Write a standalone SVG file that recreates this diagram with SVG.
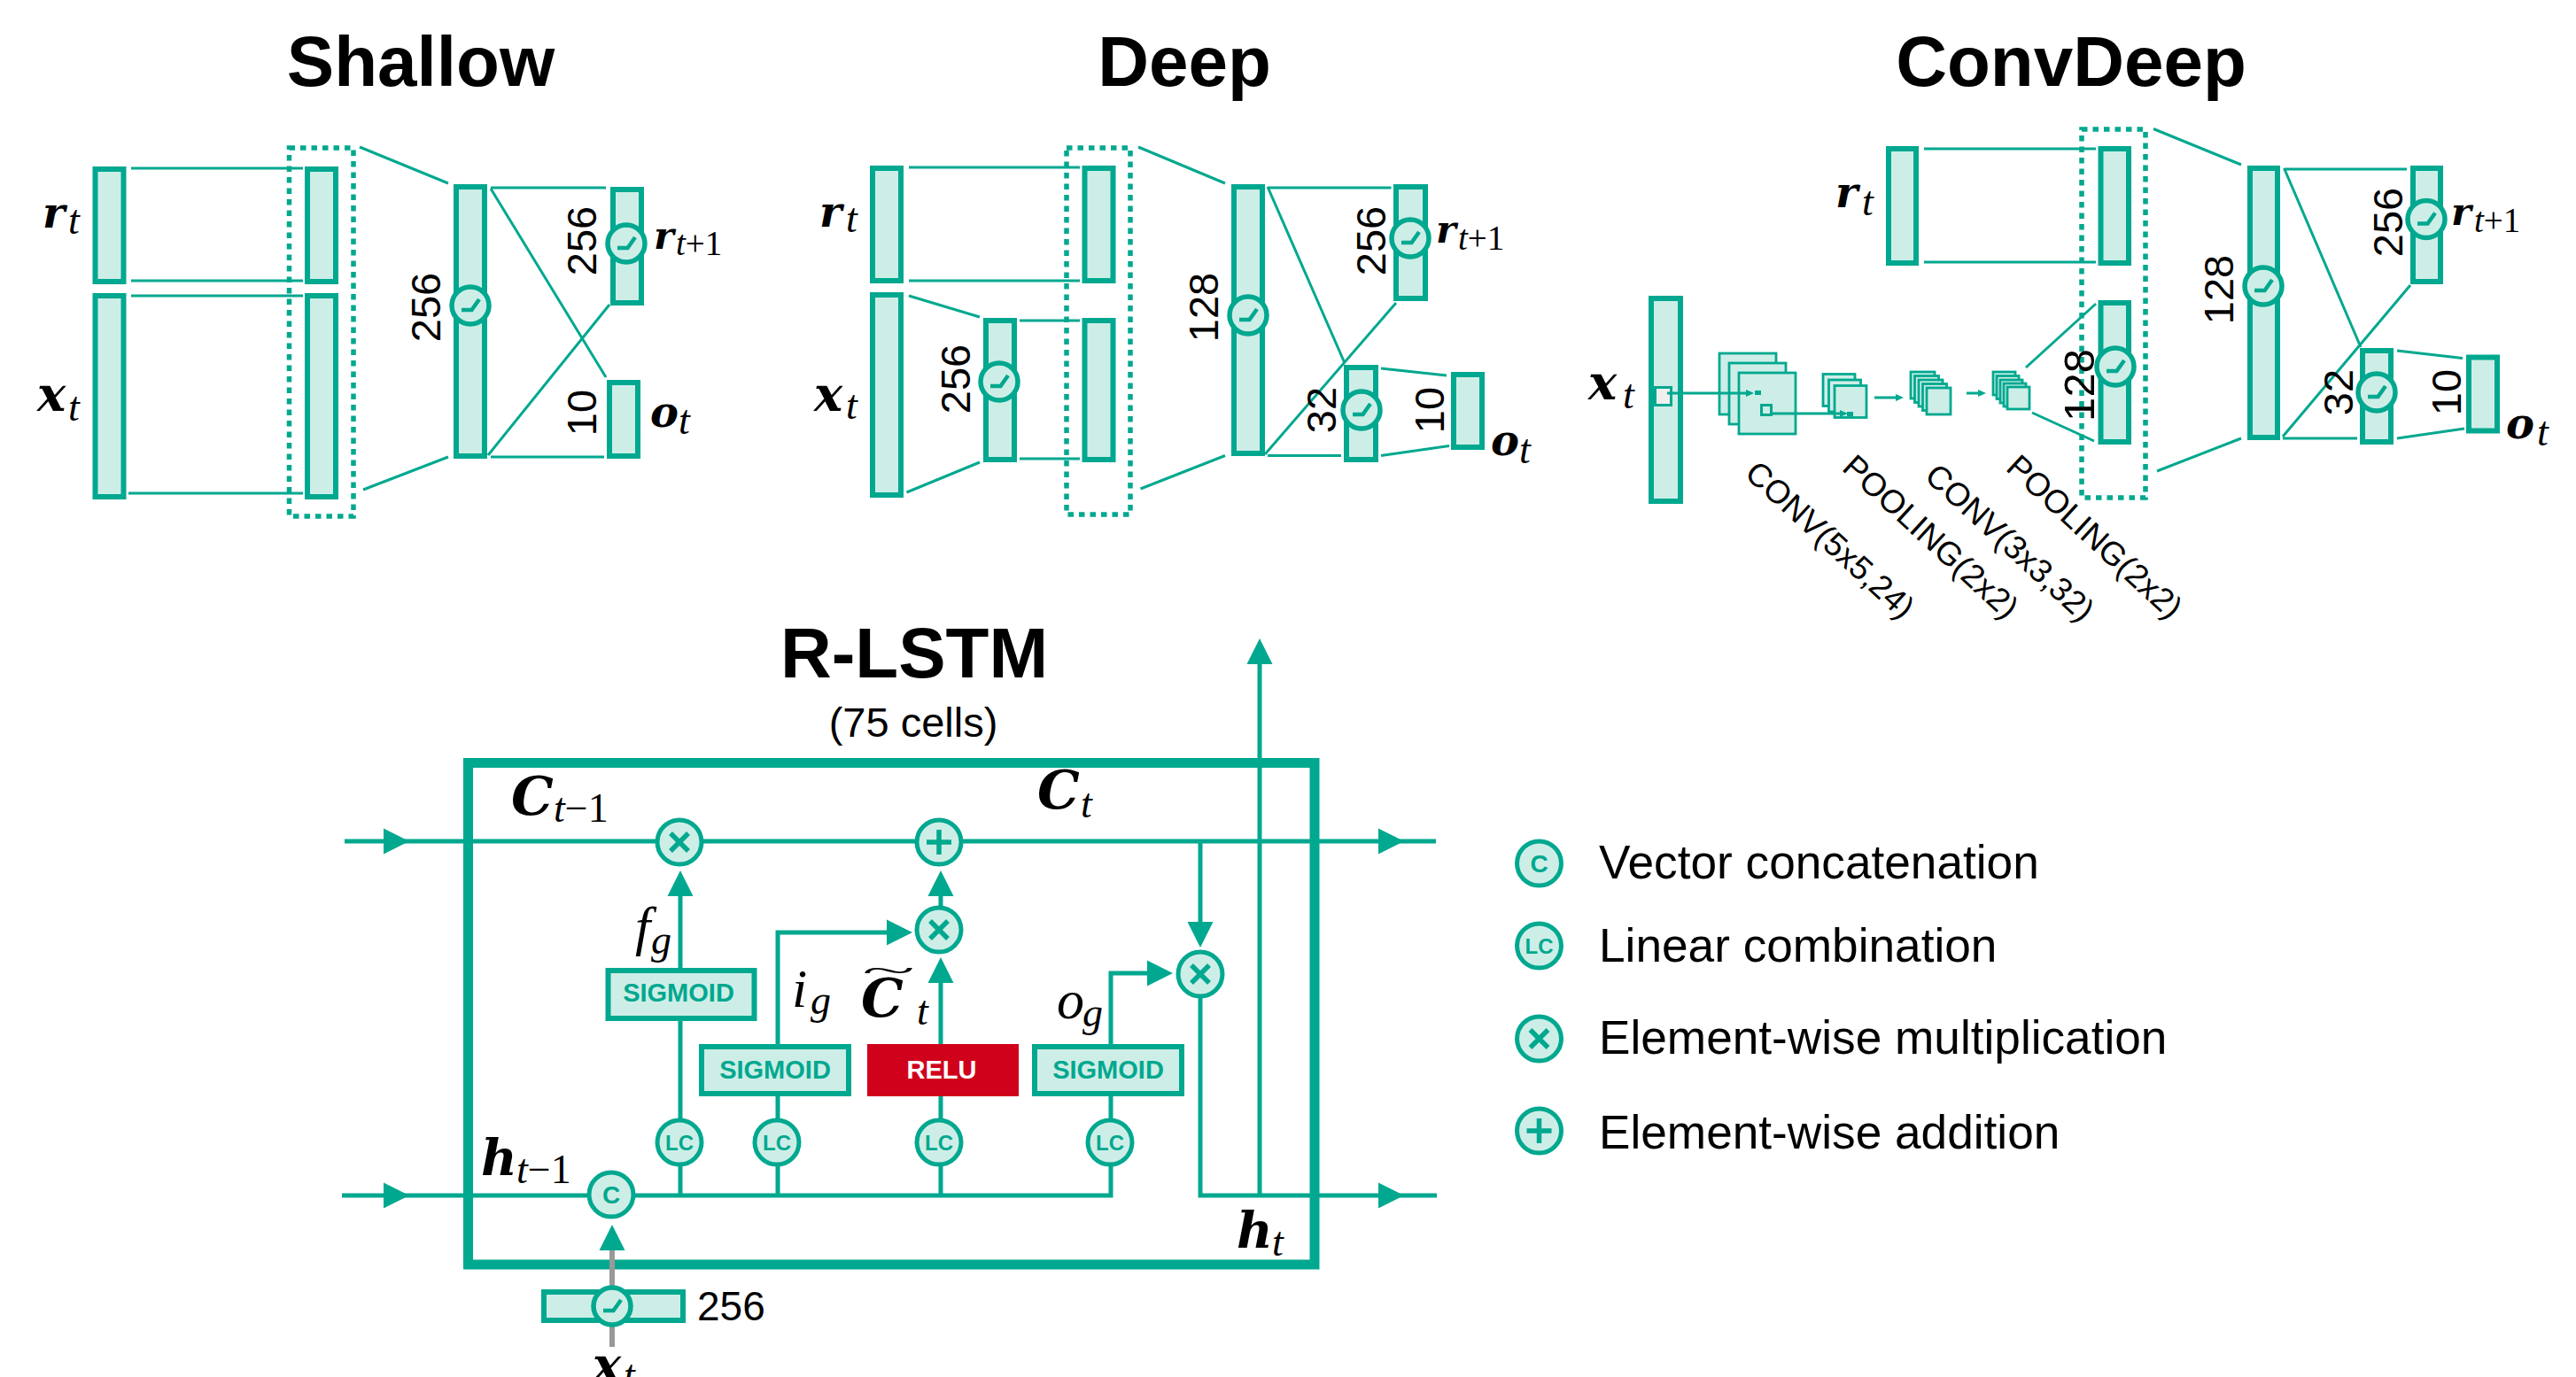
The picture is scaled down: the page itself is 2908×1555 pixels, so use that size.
<svg xmlns="http://www.w3.org/2000/svg" xmlns:xlink="http://www.w3.org/1999/xlink" width="2908" height="1555" viewBox="0 0 2908 1555">
<style>
text{font-family:"Liberation Sans",Arial,sans-serif;fill:#000}
.title{font-size:80px;font-weight:700;text-anchor:middle}
.num{font-size:47px;text-anchor:middle}
.leg{font-size:53.200px}
.rot{font-size:37px}
.mb{font-family:"DejaVu Serif","Liberation Serif",serif;font-weight:700;font-style:italic;font-size:48px}
.xx{font-size:54px}
.r1{font-size:43px}
.cap{font-size:60px}
.hh{font-size:56px}
.mi{font-family:"Liberation Serif","Times New Roman",serif;font-style:italic;font-size:62px}
.s{font-family:"Liberation Serif","Times New Roman",serif;font-style:italic;font-size:46px}
.sr{font-family:"Liberation Serif","Times New Roman",serif;font-style:normal}
.sm{font-size:39px}
.lab{font-size:29px;font-weight:700;fill:#00a88f;text-anchor:middle}
.lc{font-size:24px;font-weight:700;fill:#00a88f;text-anchor:middle}
.b{fill:#cdeee7;stroke:#00a88f;stroke-width:6}
.c{fill:#cdeee7;stroke:#00a88f;stroke-width:2.800}
.o{fill:#cdeee7;stroke:#00a88f;stroke-width:5}
.oa{fill:#cdeee7;stroke:#00a88f;stroke-width:5.500}
.l{fill:none;stroke:#00a88f;stroke-width:3}
.w{fill:none;stroke:#00a88f;stroke-width:5}
.d{fill:none;stroke:#00a88f;stroke-width:5.500;stroke-dasharray:6.500 6}
.g{fill:none;stroke:#00a88f;stroke-width:4.500}
.a{marker-end:url(#ah)}
.x{fill:none;stroke:#00a88f;stroke-width:5.500}
</style>
<defs>
<marker id="ah" markerUnits="userSpaceOnUse" markerWidth="30" markerHeight="30" viewBox="0 -15 30 30" refX="0" refY="0" orient="auto"><path d="M0-14.500L29 0L0 14.500Z" fill="#00a88f"/></marker>
<marker id="as" markerUnits="userSpaceOnUse" markerWidth="10" markerHeight="10" viewBox="0 -5 10 10" refX="0" refY="0" orient="auto"><path d="M0-4L9 0L0 4Z" fill="#00a88f"/></marker>
<g id="act"><circle class="oa" r="21"/><path class="g" d="M-10 5H1.500L10-7"/></g>
<g id="mul"><circle class="o" r="25"/><path class="x" d="M-10-10L10 10M-10 10L10-10"/></g>
<g id="add"><circle class="o" r="25"/><path class="x" d="M-14 0H14M0-14V14"/></g>
<g id="lcc"><circle class="o" r="25"/><text class="lc" y="9">LC</text></g>
<g id="cc"><circle class="o" r="25"/><text class="lc" y="10" style="font-size:28px">C</text></g>
</defs>

<g id="titles">
<text class="title" x="475" y="97">Shallow</text>
<text class="title" x="1337" y="97">Deep</text>
<text class="title" x="2338" y="97">ConvDeep</text>
<text class="title" x="1032" y="765">R-LSTM</text>
<text x="1031" y="832" style="font-size:47px;text-anchor:middle">(75 cells)</text>
</g>

<g id="connectors">
<path class="l" d="M148 190H342M148 317H342M148 334H342M145 557H342"/>
<path class="l" d="M406 166L506 207M410 553L506 516M554 212H684M554 213L684 426M551 514L688 344M554 516H682"/>
<path class="d" d="M326.500 167H399V583H326.500Z"/>
<path class="l" d="M1026 189H1219M1026 317H1219M1026 334L1106 358M1023.500 556L1106 522M1151 362H1219M1151 518H1219"/>
<path class="l" d="M1285 166L1383 207M1287.500 552L1383 514.500M1431 212H1570.500M1431 211L1518 410M1428 513L1576 342M1431 514.500H1514M1559 416L1633 424M1559 514.500L1636 503.500"/>
<path class="d" d="M1204 167H1276V581H1204Z"/>
<path class="l" d="M2172 168H2366M2172 296H2366M2287 415L2366 343M2294 466L2364 498"/>
<path class="l" d="M2431 145.500L2530 186M2435 532L2530 495M2578.500 191H2717M2578.500 190L2665 392M2577 493L2721 322M2577 495H2661M2706 396L2780 404.500M2706 495L2782 484"/>
<path class="d" d="M2350 146H2422V562H2350Z"/>
</g>

<g id="shallow">
<rect class="b" x="107.500" y="191" width="32" height="127"/>
<rect class="b" x="107.500" y="334" width="32" height="227"/>
<rect class="b" x="347" y="191" width="32" height="127"/>
<rect class="b" x="347" y="334" width="32" height="227"/>
<rect class="b" x="515" y="211" width="32" height="304"/>
<rect class="b" x="692" y="214" width="32" height="128"/>
<rect class="b" x="688" y="432" width="32" height="83"/>
<use xlink:href="#act" href="#act" x="531" y="345"/>
<use xlink:href="#act" href="#act" x="707" y="275"/>
<text class="num" transform="translate(497 347) rotate(-90)">256</text>
<text class="num" transform="translate(673 272) rotate(-90)">256</text>
<text class="num" transform="translate(673 466) rotate(-90)">10</text>
<text class="mb" x="48" y="257">r</text><text class="s" x="77" y="264">t</text>
<text class="mb xx" x="42" y="464">x</text><text class="s" x="77" y="475">t</text>
<text class="mb r1" x="738" y="281">r</text><text class="s sm" x="763" y="288">t<tspan class="sr">+1</tspan></text>
<text class="mb" x="734" y="482">o</text><text class="s" x="766" y="490">t</text>
</g>

<g id="deep">
<rect class="b" x="985" y="190" width="32" height="127"/>
<rect class="b" x="985" y="333" width="32" height="226"/>
<rect class="b" x="1224.500" y="190" width="32" height="127"/>
<rect class="b" x="1224.500" y="362" width="32" height="157"/>
<rect class="b" x="1113" y="362" width="32" height="157"/>
<rect class="b" x="1393" y="211" width="32" height="301"/>
<rect class="b" x="1576" y="211" width="33" height="126"/>
<rect class="b" x="1520" y="415" width="33" height="104"/>
<rect class="b" x="1641" y="423" width="32" height="82"/>
<use xlink:href="#act" href="#act" x="1128" y="431"/>
<use xlink:href="#act" href="#act" x="1409" y="356"/>
<use xlink:href="#act" href="#act" x="1592" y="269"/>
<use xlink:href="#act" href="#act" x="1537" y="463"/>
<text class="num" transform="translate(1095 428) rotate(-90)">256</text>
<text class="num" transform="translate(1375 347) rotate(-90)">128</text>
<text class="num" transform="translate(1564 272) rotate(-90)">256</text>
<text class="num" transform="translate(1508 463) rotate(-90)">32</text>
<text class="num" transform="translate(1630 463) rotate(-90)">10</text>
<text class="mb" x="925" y="256">r</text><text class="s" x="955" y="262">t</text>
<text class="mb xx" x="919" y="464">x</text><text class="s" x="955" y="473">t</text>
<text class="mb r1" x="1621" y="274">r</text><text class="s sm" x="1646" y="282">t<tspan class="sr">+1</tspan></text>
<text class="mb" x="1683" y="514">o</text><text class="s" x="1715" y="523">t</text>
</g>

<g id="convdeep">
<rect class="b" x="1864" y="337" width="33" height="229"/>
<rect x="1868.500" y="437.500" width="18" height="20" fill="#f0f0f0" stroke="#00a88f" stroke-width="3"/>
<rect class="c" x="1941" y="399" width="64" height="69"/>
<rect class="c" x="1952" y="410" width="64" height="69"/>
<rect class="c" x="1963" y="421" width="64" height="69"/>
<rect x="1988.500" y="457.500" width="11" height="11" fill="#cdeee7" stroke="#00a88f" stroke-width="3"/>
<rect class="c" x="2058" y="422.500" width="36" height="36"/>
<rect class="c" x="2064.500" y="429" width="36" height="36"/>
<rect class="c" x="2071" y="435.500" width="36" height="36"/>
<rect class="c" x="2157" y="420" width="27" height="30"/>
<rect class="c" x="2161.500" y="424.500" width="27" height="30"/>
<rect class="c" x="2166" y="429" width="27" height="30"/>
<rect class="c" x="2170.500" y="433.500" width="27" height="30"/>
<rect class="c" x="2175" y="438" width="27" height="30"/>
<rect class="c" x="2250" y="420" width="25" height="26"/>
<rect class="c" x="2254" y="424.500" width="25" height="26"/>
<rect class="c" x="2258" y="429" width="25" height="26"/>
<rect class="c" x="2262" y="433" width="25" height="26"/>
<rect class="c" x="2266" y="437" width="25" height="25"/>
<rect x="1981" y="441" width="7" height="5" fill="#00a88f"/>
<rect x="2085" y="465" width="7" height="5" fill="#00a88f"/>
<path class="l" style="marker-end:url(#as)" d="M1882 444H1971"/>
<path class="l" style="marker-end:url(#as)" d="M2000 467H2077"/>
<path class="l" style="marker-end:url(#as)" d="M2116 449H2140"/>
<path class="l" style="marker-end:url(#as)" d="M2220 444H2233"/>
<rect class="b" x="2132" y="168" width="31" height="129"/>
<rect class="b" x="2371.500" y="168" width="31.500" height="129"/>
<rect class="b" x="2371.500" y="342" width="31.500" height="157"/>
<rect class="b" x="2540" y="190" width="31" height="304"/>
<rect class="b" x="2724" y="190" width="31" height="128"/>
<rect class="b" x="2667" y="396" width="32" height="103"/>
<rect class="b" x="2787" y="403.500" width="32" height="83"/>
<use xlink:href="#act" href="#act" x="2388" y="414"/>
<use xlink:href="#act" href="#act" x="2555" y="323"/>
<use xlink:href="#act" href="#act" x="2739" y="247.500"/>
<use xlink:href="#act" href="#act" x="2683" y="443"/>
<text class="num" style="font-size:49px" transform="translate(2364 435) rotate(-90)">128</text>
<text class="num" transform="translate(2521 327) rotate(-90)">128</text>
<text class="num" transform="translate(2712 251) rotate(-90)">256</text>
<text class="num" transform="translate(2656 443) rotate(-90)">32</text>
<text class="num" transform="translate(2778 443) rotate(-90)">10</text>
<text class="mb" x="2072" y="234">r</text><text class="s" x="2102" y="243">t</text>
<text class="mb xx" x="1793" y="451">x</text><text class="s" x="1832" y="461">t</text>
<text class="mb r1" x="2767" y="254">r</text><text class="s sm" x="2793" y="262">t<tspan class="sr">+1</tspan></text>
<text class="mb" x="2829" y="495">o</text><text class="s" x="2864" y="503">t</text>
<text class="rot" transform="translate(1968 537) rotate(42.500)">CONV(5x5,24)</text>
<text class="rot" transform="translate(2078 530) rotate(42.500)">POOLING(2x2)</text>
<text class="rot" transform="translate(2171 540) rotate(42.500)">CONV(3x3,32)</text>
<text class="rot" transform="translate(2263 530) rotate(42.500)">POOLING(2x2)</text>
</g>

<g id="rlstm-box"><rect x="528.500" y="861.500" width="955.500" height="566.500" fill="none" stroke="#00a88f" stroke-width="11"/></g>

<g id="rlstm-connectors">
<path class="w a" d="M389 950H433"/>
<path class="w a" d="M433 950H1556"/><path class="w" d="M1556 950H1621"/>
<path class="w a" d="M386 1350H433"/>
<path class="w" d="M433 1350H1254V1238"/>
<path class="w a" d="M1355 1100V1350H1556"/><path class="w" d="M1556 1350H1622"/>
<path class="w a" d="M768 1350V1012"/>
<path class="w a" d="M878 1350V1053H1001"/>
<path class="w a" d="M1062 1350V1110"/>
<path class="w a" d="M1062 1050V1012"/>
<path class="w a" d="M1254 1180V1099H1295"/>
<path class="w a" d="M1355 950V1041"/>
<path class="w a" d="M1422 1350V750"/>
<path class="a" fill="none" stroke="#999" stroke-width="6" d="M691 1521V1412"/>
</g>

<g id="rlstm-nodes">
<rect class="b" x="686.500" y="1096" width="165" height="54"/>
<text class="lab" x="766" y="1131">SIGMOID</text>
<rect class="b" x="792" y="1182" width="166" height="53"/>
<text class="lab" x="875" y="1218">SIGMOID</text>
<rect x="979" y="1179" width="171" height="59" fill="#d0021b"/>
<text class="lab" x="1063" y="1218" style="fill:#fff">RELU</text>
<rect class="b" x="1168" y="1182" width="166" height="53"/>
<text class="lab" x="1251" y="1218">SIGMOID</text>
<use xlink:href="#mul" href="#mul" x="767" y="951"/>
<use xlink:href="#add" href="#add" x="1060" y="951"/>
<use xlink:href="#mul" href="#mul" x="1060" y="1050"/>
<use xlink:href="#mul" href="#mul" x="1355" y="1100"/>
<use xlink:href="#lcc" href="#lcc" x="767" y="1290"/>
<use xlink:href="#lcc" href="#lcc" x="877" y="1290"/>
<use xlink:href="#lcc" href="#lcc" x="1060" y="1290"/>
<use xlink:href="#lcc" href="#lcc" x="1253" y="1290"/>
<use xlink:href="#cc" href="#cc" x="690" y="1349"/>
<rect class="b" x="614" y="1459" width="157" height="32"/>
<use xlink:href="#act" href="#act" x="691" y="1475"/>
<text x="787" y="1491" style="font-size:46px">256</text>
<text class="mb cap" x="577" y="920">C</text><text class="s" x="625" y="928">t<tspan class="sr">−1</tspan></text>
<text class="mb cap" x="1171" y="913">C</text><text class="s" x="1220" y="923">t</text>
<text class="mi" x="717" y="1067">f</text><text class="s" x="735" y="1077">g</text>
<text class="mi" x="894" y="1137">i</text><text class="s" x="915" y="1145">g</text>
<text class="mb cap" x="972" y="1148">C</text>
<text class="sr" transform="translate(1003 1108) scale(1.850 .6)" style="font-size:60px;text-anchor:middle">~</text>
<text class="s" x="1035" y="1157">t</text>
<text class="mi" x="1193" y="1150">o</text><text class="s" x="1222" y="1159">g</text>
<text class="mb hh" x="543" y="1327">h</text><text class="s" x="583" y="1336">t<tspan class="sr">−1</tspan></text>
<text class="mb hh" x="1396" y="1409">h</text><text class="s" x="1436" y="1418">t</text>
<text class="mb xx" x="669" y="1560">x</text><text class="s" x="704" y="1568">t</text>
</g>

<g id="legend">
<use xlink:href="#cc" href="#cc" x="1737.500" y="975"/><text class="leg" x="1805" y="992">Vector concatenation</text>
<use xlink:href="#lcc" href="#lcc" x="1737.500" y="1068"/><text class="leg" x="1805" y="1086">Linear combination</text>
<use xlink:href="#mul" href="#mul" x="1737.500" y="1173"/><text class="leg" x="1805" y="1190">Element-wise multiplication</text>
<use xlink:href="#add" href="#add" x="1737.500" y="1277"/><text class="leg" x="1805" y="1297">Element-wise addition</text>
</g>
</svg>
